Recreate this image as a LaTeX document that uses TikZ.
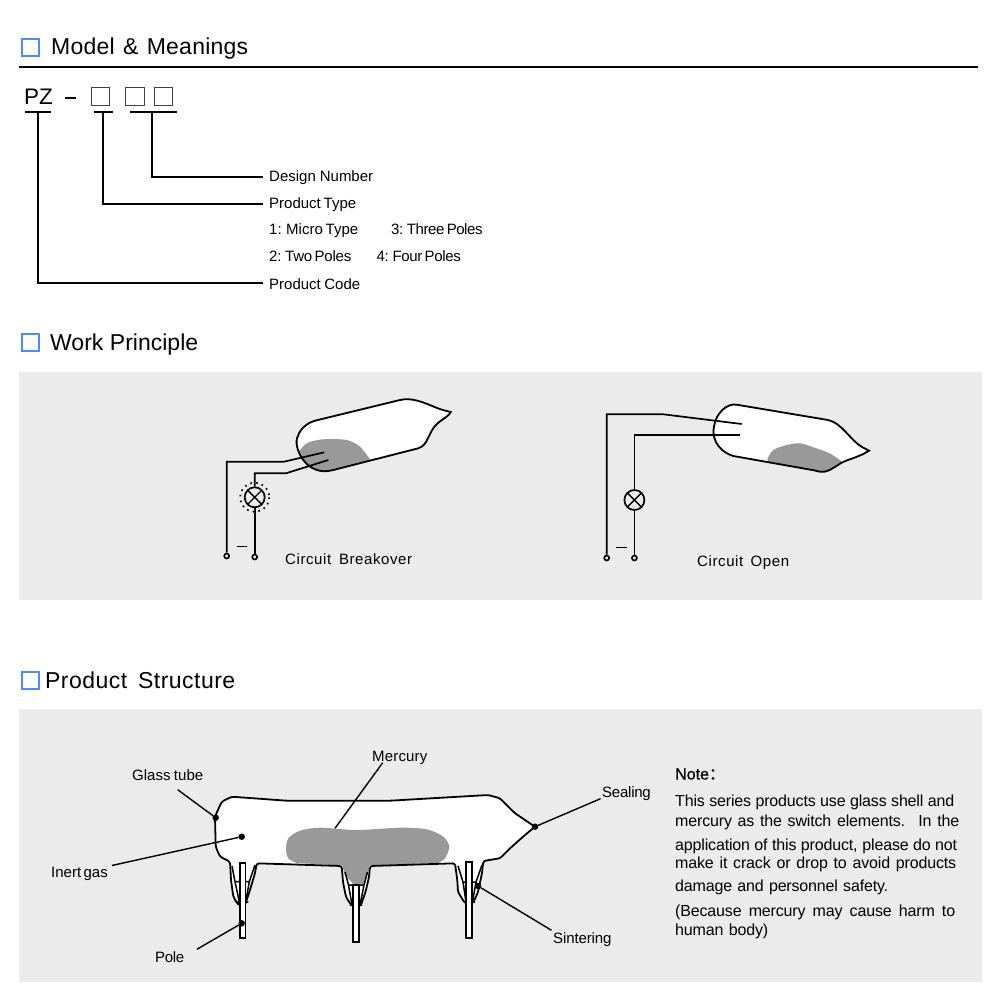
\documentclass[tikz,border=0pt]{standalone}
\usepackage{fontspec}
\setmainfont{Liberation Sans}
\newfontfamily\cjkfont[FakeBold=2]{Noto Sans CJK SC}
\definecolor{panelgray}{HTML}{EBEBEB}
\definecolor{mercurygray}{HTML}{999999}
\definecolor{headblue}{HTML}{4A8CF8}
\newcommand{\fitline}[3]{\hbox to #2pt{\addfontfeature{LetterSpace=#1}\spaceskip=0.16em plus 1fil\relax #3}}
\newcommand{\tubeclosed}{(315,420.7) -- (400,400) .. controls (412,397) and (425,403) .. (437,408) .. controls (442,410) and (447,411) .. (450.7,412) .. controls (449,416) and (444,418) .. (438,423) .. controls (428,431) and (429,445) .. (418.3,448.3) -- (333.3,470) .. controls (305,478) and (292,445) .. (298,436) .. controls (300,429) and (307,423) .. (315,420.7) -- cycle}
\newcommand{\tubeopen}{(736.7,404.7) -- (828,420) .. controls (842,423) and (850,440) .. (862,447) -- (869,450.7) -- (863.3,454) .. controls (850,460) and (845,460) .. (838,465) .. controls (830,470) and (825,474) .. (815,470.5) -- (733.3,456) .. controls (715,450) and (712,435) .. (714,426.7) .. controls (716,412) and (728,403) .. (736.7,404.7) -- cycle}
\newcommand{\tubebody}{(231.7,796.7) -- (286.7,800.7) -- (390,800.7) -- (488.3,795) -- (500,798.3) -- (515,813.3) -- (535,826.7) -- (525,835) -- (510,848.3) -- (500,858.3) -- (483.3,861)
  -- (482,873) -- (478,892) -- (473,903.3) -- (465,903.3) -- (458,892) -- (457.3,880) -- (455,863.3)
  -- (370,866) -- (369,877) -- (365.5,892) -- (360.5,906) -- (351.7,906) -- (346,897) -- (343,882) -- (341.7,866)
  -- (256.7,863.3) -- (255,873) -- (250,890) -- (245,905) -- (238.3,905) -- (233.3,896.7) -- (231,880) -- (230,861.7)
  -- (220,856.7) -- (215.7,846.7) -- (215,816.7) -- (221.7,801.7) -- cycle}
\tikzset{
  headbox/.style={draw=headblue,line width=1.5pt,minimum size=17pt,inner sep=0pt},
  codebox/.style={draw=black!75,line width=1pt,minimum size=18.5pt,inner sep=0pt},
  headtext/.style={font=\fontsize{23}{26}\selectfont,anchor=west,inner sep=0pt,text height=16pt,text depth=0pt},
  bodytext/.style={font=\fontsize{15}{17}\selectfont,anchor=west,inner sep=1.5pt,text height=11pt,text depth=0pt},
  notetext/.style={bodytext,font=\fontsize{16}{18}\selectfont},
  wire/.style={line width=1.7pt,black},
  leader/.style={line width=1.4pt,black},
  lamp/.style={circle,draw,line width=1.7pt,minimum size=20pt,inner sep=0pt,
    path picture={\draw[line width=1.4pt] (path picture bounding box.north west) -- (path picture bounding box.south east)
      (path picture bounding box.north east) -- (path picture bounding box.south west);}},
  terminal/.style={circle,draw,line width=1.6pt,minimum size=5pt,inner sep=0pt},
  blackdot/.style={circle,fill=black,minimum size=6.5pt,inner sep=0pt},
  glass/.style={draw=black,line width=1.8pt},
  pin/.style={fill=white,draw=black,line width=1.7pt},
  skirt/.style={line width=1.5pt}
}
\begin{document}
\begin{tikzpicture}[x=1pt,y=-1pt]
\useasboundingbox (0,0) rectangle (1000,1000);
\fill[white] (0,0) rectangle (1000,1000);
% headings
\node[headbox] (boxmodel) at (30.5,47.5) {};
\node[headtext] (headmodel) at (51,47) {\fitline{1}{197}{Model \& Meanings}};
\draw[line width=2pt] (19,67) -- (978,67);
\node[headbox] (boxwork) at (30.5,342.5) {};
\node[headtext] (headwork) at (50,342) {\fitline{0}{148}{Work Principle}};
\node[headbox] (boxstruct) at (30.5,680.5) {};
\node[headtext] (headstruct) at (45,680) {\fitline{2}{190}{Product Structure}};
% model code
\node[font=\fontsize{22.5}{26}\selectfont,inner sep=0pt] (codepz) at (38.5,97) {PZ};
\coordinate (dashl) at (65,98);
\coordinate (dashr) at (76,98);
\draw[line width=1.8pt] (dashl) -- (dashr);
\node[codebox] (codea) at (100.5,96.5) {};
\node[codebox] (codeb) at (135,96.5) {};
\node[codebox] (codec) at (163.5,96.5) {};
\coordinate (barpz) at (38,112);
\coordinate (bara) at (103,112);
\coordinate (barb) at (152,112);
\draw[leader] (25,112) -- (51,112);
\draw[leader] (94,112) -- (113,112);
\draw[leader] (130,112) -- (177,112);
\node[bodytext] (design) at (267.5,176.2) {\fitline{0}{104}{Design Number}};
\node[bodytext] (ptype) at (267.5,202.8) {\fitline{0}{87}{Product Type}};
\node[bodytext] (micro) at (267.5,228.8) {\fitline{0}{89}{1: Micro Type}};
\node[bodytext] (three) at (389.5,228.8) {\fitline{-2.9}{90}{3: Three Poles}};
\node[bodytext] (two) at (267.5,256.2) {\fitline{-1.5}{81}{2: Two Poles}};
\node[bodytext] (four) at (375,256.2) {\fitline{-2.4}{82}{4: Four Poles}};
\node[bodytext] (pcode) at (267.5,283.8) {\fitline{0}{91}{Product Code}};
\draw[leader,shorten >=5pt] (barb) |- ([shift={(0,0.8)}]design.west);
\draw[leader,shorten >=5pt] (bara) |- ([shift={(0,1.2)}]ptype.west);
\draw[leader,shorten >=5pt] (barpz) |- ([shift={(0,-0.8)}]pcode.west);
% panels
\fill[panelgray] (19,372) rectangle (982,600);
\fill[panelgray] (19,709) rectangle (982,982);
% circuit breakover
\fill[white] \tubeclosed;
\begin{scope}
\clip \tubeclosed;
\fill[mercurygray] plot[smooth,tension=0.5] coordinates {(298,453) (306.7,443.3) (323.3,439.3) (346.7,440) (360,446.7) (370,459.3)} -- (370,475) -- (298,475) -- cycle;
\end{scope}
\draw[glass] \tubeclosed;
\node[lamp] (lampa) at (254.7,497.3) {};
\draw[dash pattern=on 1.6pt off 4.2pt,line width=1.7pt] (lampa) circle (14.5);
\node[terminal] (terma) at (226.7,556) {};
\node[terminal] (termb) at (254.7,557) {};
\coordinate (pina) at (324.3,452.3);
\coordinate (pinb) at (328.3,460);
\draw[wire] (terma) |- (284,461.7) -- (pina);
\draw[wire] (termb) -- (lampa);
\draw[wire] (lampa) |- (286,473.3) -- (pinb);
\draw[line width=1pt] (236.7,546) -- (246.7,546);
\node[bodytext] (breakover) at (283.5,558.5) {\fitline{4}{127}{Circuit Breakover}};
% circuit open
\fill[white] \tubeopen;
\begin{scope}
\clip \tubeopen;
\fill[mercurygray] plot[smooth,tension=0.5] coordinates {(767.7,458.3) (773.3,450) (786.7,445) (800,443.3) (813.3,447.3) (828.3,452.7) (841,460.7)} -- (841,480) -- (767.7,480) -- cycle;
\end{scope}
\draw[glass] \tubeopen;
\node[lamp] (lampb) at (634.4,500) {};
\node[terminal] (termc) at (606.7,558) {};
\node[terminal] (termd) at (634.4,558) {};
\coordinate (pinc) at (741.7,424);
\coordinate (pind) at (740,435.3);
\draw[wire] (termc) |- (663.3,414.3) -- (pinc);
\draw[wire] (termd) -- (lampb);
\draw[wire] (lampb) |- (pind);
\draw[line width=1pt] (616,547.7) -- (626.7,547.7);
\node[bodytext] (copen) at (695.5,560.5) {\fitline{4}{92}{Circuit Open}};
% product structure
\fill[white] \tubebody;
\fill[mercurygray] plot[smooth,tension=0.5] coordinates {(296.7,863) (288.3,858.3) (286,850) (288.3,838.3) (300,830.7) (320,827.7) (356.7,830) (400,827.7) (426.7,829.3) (443.3,836.7) (449.3,846.7) (445,858.3) (438.3,862.8)} -- (369.5,865.5) -- (368.3,871.7) -- (363.3,884) -- (353.3,884) -- (345,875) -- (342.2,865.5) -- cycle;
\draw[glass,rounded corners=2.5pt] \tubebody;
\draw[skirt] (232,866) -- (235,881.7) -- (239.3,901.7) (255,865) -- (249.3,881.7) -- (245.7,901.7) (236,881.7) -- (250,881.7) (236.7,902) -- (248.3,902);
\draw[skirt] (345,872) -- (348.5,885) -- (352,905) (367.5,872) -- (364,885) -- (360,905) (348,885) -- (364,885) (350,905) -- (362,905);
\draw[skirt] (458,866) -- (463,882) -- (466,902) (482,865) -- (476,882) -- (472.5,902) (462,882) -- (477,882) (465,902) -- (475,902);
\draw[pin] (240,863.3) rectangle (245.5,938.3);
\draw[pin] (353.3,885) rectangle (359,941.7);
\draw[pin] (466.3,861.7) rectangle (472,937.7);
% labels and leaders
\node[bodytext] (lglass) at (130.5,774.5) {\fitline{0}{71}{Glass tube}};
\node[bodytext] (lmercury) at (370.5,755.5) {\fitline{1.1}{55}{Mercury}};
\node[bodytext] (lsealing) at (600.5,791.5) {\fitline{-1.6}{49}{Sealing}};
\node[bodytext] (linert) at (49.5,871.5) {\fitline{0}{56}{Inert gas}};
\node[bodytext] (lsinter) at (551.5,937.5) {\fitline{-0.8}{58}{Sintering}};
\node[bodytext] (lpole) at (153.5,956.5) {\fitline{-2}{29}{Pole}};
\node[blackdot] (dotglass) at (215.7,817.7) {};
\node[blackdot] (dotinert) at (241.7,836.7) {};
\node[blackdot] (dotseal) at (535,826.7) {};
\node[blackdot] (dotsinter) at (478,886) {};
\node[blackdot] (dotpole) at (241.7,923.3) {};
\coordinate (surface) at (335,828.3);
\draw[leader] ([shift={(10,8)}]lglass.south) -- (dotglass);
\draw[leader] ([shift={(3,-6)}]linert.east) -- (dotinert);
\draw[leader] ([xshift=-17pt]lmercury.south) -- (surface);
\draw[leader] (lsealing.south west) -- (dotseal);
\draw[leader] (lsinter.north west) -- (dotsinter);
\draw[leader] ([xshift=11pt]lpole.north east) -- (dotpole);
% note
\node[notetext] (note) at (673.5,774) {{\addfontfeature{FakeBold=0.6}Note}{\cjkfont ：}};
\node[notetext] (notea) at (673.5,800.5) {\fitline{-1}{279}{This series products use glass shell and}};
\node[notetext] (noteb) at (673.5,820.5) {\fitline{-1}{284}{mercury as the switch elements. In the}};
\node[notetext] (notec) at (673.5,845.2) {\fitline{-1}{282}{application of this product, please do not}};
\node[notetext] (noted) at (673.5,863.2) {\fitline{-1}{281}{make it crack or drop to avoid products}};
\node[notetext] (notee) at (673.5,885.5) {\fitline{-1}{213}{damage and personnel safety.}};
\node[notetext] (notef) at (673.5,910.5) {\fitline{-1}{280}{(Because mercury may cause harm to}};
\node[notetext] (noteg) at (673.5,930.2) {\fitline{-1}{93}{human body)}};
\end{tikzpicture}
\end{document}
